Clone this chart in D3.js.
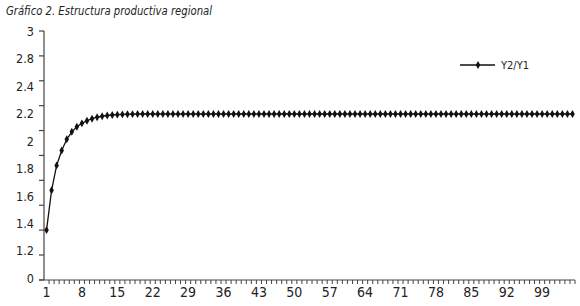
<!DOCTYPE html>
<html>
<head>
<meta charset="utf-8">
<script src="https://d3js.org/d3.v7.min.js"></script>
<style>
  body { margin: 0; background: #fff; }
  svg { display: block; }
  text { font-family: "DejaVu Sans Condensed", "DejaVu Sans", sans-serif; font-stretch: condensed; fill: #222; }
</style>
</head>
<body>
<svg id="chart" width="580" height="306"></svg>
<script>
// periods 1..105 on the x axis
var periods = d3.range(1, 106);

// Y2/Y1 ratio
var ratio = [
  1.400, 1.720, 1.920, 2.040, 2.130, 2.190, 2.230, 2.258, 2.279, 2.295,
  2.307, 2.315, 2.321, 2.325, 2.328, 2.330, 2.331, 2.332, 2.333, 2.333,
  2.333, 2.333, 2.333, 2.333, 2.333, 2.333, 2.333, 2.333, 2.333, 2.333,
  2.333, 2.333, 2.333, 2.333, 2.333, 2.333, 2.333, 2.333, 2.333, 2.333,
  2.333, 2.333, 2.333, 2.333, 2.333, 2.333, 2.333, 2.333, 2.333, 2.333,
  2.333, 2.333, 2.333, 2.333, 2.333, 2.333, 2.333, 2.333, 2.333, 2.333,
  2.333, 2.333, 2.333, 2.333, 2.333, 2.333, 2.333, 2.333, 2.333, 2.333,
  2.333, 2.333, 2.333, 2.333, 2.333, 2.333, 2.333, 2.333, 2.333, 2.333,
  2.333, 2.333, 2.333, 2.333, 2.333, 2.333, 2.333, 2.333, 2.333, 2.333,
  2.333, 2.333, 2.333, 2.333, 2.333, 2.333, 2.333, 2.333, 2.333, 2.333,
  2.333, 2.333, 2.333, 2.333, 2.333
];

// tick marks of the value axis (axis is broken between 0 and 1.2)
var yTicks = [0, 1.2, 1.4, 1.6, 1.8, 2, 2.2, 2.4, 2.6, 2.8, 3];
// labels as printed on the original, spread evenly down the axis
var yLabels = ["3", "2.8", "2.4", "2.2", "2", "1.8", "1.6", "1.4", "1.2", "0"];
// period labels every 7 periods
var xLabels = [1, 8, 15, 22, 29, 36, 43, 50, 57, 64, 71, 78, 85, 92, 99];

var svg = d3.select("#chart");

// title
svg.append("text")
    .attr("x", 6)
    .attr("y", 15)
    .attr("font-size", 13)
    .attr("font-style", "italic")
    .attr("textLength", 206)
    .attr("lengthAdjust", "spacingAndGlyphs")
    .text("Gráfico 2. Estructura productiva regional");

var x = d3.scaleBand().domain(periods).range([44, 575]),
    y = d3.scaleLinear().domain([0, 1.2, 3]).range([280, 255, 31]),
    yLab = d3.scalePoint().domain(yLabels).range([31, 278]);

var axisColor = "#444";

// value axis: line and ticks
svg.append("line")
    .attr("x1", 44).attr("x2", 44)
    .attr("y1", y(3)).attr("y2", y(0))
    .attr("stroke", axisColor)
    .attr("stroke-width", 1.2);

svg.selectAll(".ytick")
  .data(yTicks)
  .enter().append("line")
    .attr("class", "ytick")
    .attr("x1", 39).attr("x2", 44)
    .attr("y1", function(d) { return y(d); })
    .attr("y2", function(d) { return y(d); })
    .attr("stroke", axisColor)
    .attr("stroke-width", 1.2);

// value labels
var gy = svg.append("g")
    .attr("transform", "translate(34,0)")
    .call(d3.axisLeft(yLab).tickSize(0).tickPadding(0));
gy.select(".domain").remove();
gy.selectAll("text")
    .attr("font-size", 12.5)
    .attr("font-family", null)
    .attr("dy", "0.35em");

// category axis: line and ticks between periods
svg.append("line")
    .attr("x1", 39).attr("x2", 575)
    .attr("y1", y(0)).attr("y2", y(0))
    .attr("stroke", axisColor)
    .attr("stroke-width", 1.2);

var bounds = periods.map(function(d) { return x(d); }).concat([x.range()[1]]);
svg.selectAll(".xtick")
  .data(bounds.slice(1))
  .enter().append("line")
    .attr("class", "xtick")
    .attr("x1", function(d) { return d; })
    .attr("x2", function(d) { return d; })
    .attr("y1", y(0)).attr("y2", y(0) + 4)
    .attr("stroke", axisColor)
    .attr("stroke-width", 1);

var gx = svg.append("g")
    .attr("transform", "translate(0," + y(0) + ")")
    .call(d3.axisBottom(x).tickValues(xLabels).tickSize(0).tickPadding(7));
gx.select(".domain").remove();
gx.selectAll("text")
    .attr("font-size", 14)
    .attr("font-family", null)
    .attr("dy", "0.71em");

// the series line
var cx = function(d, i) { return x(periods[i]) + x.bandwidth() / 2; };

var line = d3.line()
    .x(cx)
    .y(function(d) { return y(d); });

svg.append("path")
    .datum(ratio)
    .attr("fill", "none")
    .attr("stroke", "#111")
    .attr("stroke-width", 1.3)
    .attr("d", line);

var diamond = d3.symbol().type(d3.symbolDiamond).size(18);

svg.selectAll(".dot")
  .data(ratio)
  .enter().append("path")
    .attr("class", "dot")
    .attr("d", diamond)
    .attr("transform", function(d, i) { return "translate(" + cx(d, i) + "," + y(d) + ")"; })
    .attr("fill", "#111");

// legend
var legend = svg.append("g").attr("transform", "translate(460,65)");
legend.append("line")
    .attr("x1", 0).attr("x2", 35)
    .attr("stroke", "#111")
    .attr("stroke-width", 1.3);
legend.append("path")
    .attr("d", diamond)
    .attr("transform", "translate(18,0)")
    .attr("fill", "#111");
legend.append("text")
    .attr("x", 41)
    .attr("y", 4)
    .attr("font-size", 11)
    .text("Y2/Y1");
</script>
</body>
</html>
